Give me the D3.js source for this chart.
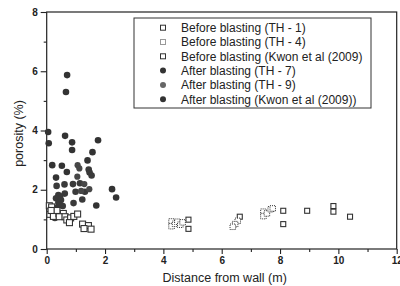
<!DOCTYPE html>
<html><head><meta charset="utf-8">
<script src="https://cdn.jsdelivr.net/npm/d3@7"></script>
<style>body{margin:0;background:#fff}svg{display:block}text{font-family:"Liberation Sans",Arial,sans-serif;fill:#222}</style>
</head><body><svg id="c" width="400" height="286"></svg>
<script>
const seriesNames = ["Before blasting (TH - 1)","Before blasting (TH - 4)","Before blasting (Kwon et al (2009)","After blasting (TH - 7)","After blasting (TH - 9)","After blasting (Kwon et al (2009))"];
const xTicks = [0,2,4,6,8,10,12];
const yTicks = [0,2,4,6,8];
const beforeTH1 = [[4.86,0.99],[4.86,0.68],[6.62,1.09],[8.11,1.29],[8.11,0.84],[8.93,1.29],[9.83,1.45],[9.83,1.26],[10.40,1.09]];
const beforeTH4 = [[4.28,0.93],[4.28,0.77],[4.40,0.85],[4.48,0.92],[4.58,0.82],[4.66,0.90],[6.55,0.95],[6.46,0.84],[6.38,0.75],[7.43,1.26],[7.43,1.11],[7.55,1.20],[7.68,1.34],[7.75,1.37]];
const beforeKwon = [[0.09,1.46],[0.17,1.42],[0.11,1.17],[0.28,1.26],[0.23,1.10],[0.42,1.19],[0.57,1.20],[0.43,1.09],[0.63,1.09],[0.69,0.98],[0.82,1.05],[0.78,0.89],[0.93,1.10],[1.06,1.18],[1.23,0.84],[1.43,0.79],[1.52,0.67],[1.28,0.69],[0.35,1.30],[0.15,1.30]];
const afterTH7 = [[0.70,5.87],[0.66,5.30],[0.05,3.95],[0.63,3.82],[0.07,3.57],[0.87,3.60],[1.76,3.67],[0.87,3.34],[1.57,3.27],[1.40,2.99],[0.19,2.83],[0.52,2.81],[0.69,2.60],[0.32,2.41],[2.24,2.02],[2.38,1.74],[1.70,1.47]];
const afterTH9 = [[1.06,2.83],[1.12,2.72],[1.29,2.19],[1.46,2.02],[1.05,2.44],[1.18,1.96]];
const afterKwon = [[1.44,2.68],[1.47,2.58],[1.54,2.48],[0.34,2.13],[0.61,2.18],[0.90,2.19],[1.14,2.22],[0.99,1.93],[1.31,1.93],[0.62,1.87],[0.40,1.82],[0.46,1.78],[0.32,1.71],[0.49,1.65],[1.22,1.67],[0.92,1.55],[0.40,1.56],[0.43,1.49],[0.28,1.38],[0.55,1.45],[0.28,1.05],[0.45,1.12]];

const svg = d3.select("#c");
const L=46.7,R=396.7,T=12,B=249;
const x = d3.scaleLinear().domain([0,12]).range([L,R]);
const y = d3.scaleLinear().domain([0,8]).range([B,T]);
const ax="#222";

svg.append("rect").attr("x",L).attr("y",T).attr("width",R-L).attr("height",B-T).attr("fill","none").attr("stroke",ax).attr("stroke-width",1.2);

const gx = svg.append("g").attr("transform",`translate(0,${B})`)
  .call(d3.axisBottom(x).tickValues(xTicks).tickSize(5).tickPadding(3).tickFormat(d3.format("d")));
const gxm = svg.append("g").attr("transform",`translate(0,${B})`)
  .call(d3.axisBottom(x).tickValues(d3.range(1,12,2)).tickSize(3).tickFormat(""));
const gy = svg.append("g").attr("transform",`translate(${L},0)`)
  .call(d3.axisLeft(y).tickValues(yTicks).tickSize(6).tickPadding(3).tickFormat(d3.format("d")));
const gym = svg.append("g").attr("transform",`translate(${L},0)`)
  .call(d3.axisLeft(y).tickValues(d3.range(1,8,2)).tickSize(3).tickFormat(""));
[gx,gxm,gy,gym].forEach(g=>{g.select(".domain").remove();g.selectAll("line").attr("stroke",ax).attr("stroke-width",1.1);g.selectAll("text").attr("fill","#222").style("font-size","10px").style("font-weight","bold");});

svg.append("text").attr("x",(L+R)/2+3).attr("y",282).attr("text-anchor","middle").style("font-size","12.5px").text("Distance from wall (m)");
svg.append("text").attr("transform",`translate(23,${(T+B)/2+3}) rotate(-90)`).attr("text-anchor","middle").style("font-size","12.5px").text("porosity (%)");

function sq(g,data,dash,s){
  g.selectAll(null).data(data).enter().append("rect")
   .attr("x",d=>x(d[0])-s/2).attr("y",d=>y(d[1])-s/2).attr("width",s).attr("height",s)
   .attr("fill","#fff").attr("stroke","#333").attr("stroke-width",dash?1:1.1).attr("stroke-dasharray",dash?"1,1":null);
}
function ci(g,data,col,r){
  g.selectAll(null).data(data).enter().append("circle")
   .attr("cx",d=>x(d[0])).attr("cy",d=>y(d[1])).attr("r",r).attr("fill",col);
}
const pts = svg.append("g");
sq(pts,beforeTH1,false,5);
sq(pts,beforeTH4,true,5.5);
ci(pts,afterTH7,"#333",3.3);
ci(pts,afterKwon,"#3a3a3a",3.3);
ci(pts,afterTH9,"#474747",3.1);
sq(pts,beforeKwon,false,6);

const lg = svg.append("g");
lg.append("rect").attr("x",134).attr("y",18).attr("width",237).attr("height",90).attr("fill","#fff").attr("stroke","#333").attr("stroke-width",1);
const types=[["sq",false,5],["sq",true,5],["sq",false,5],["ci","#333",3],["ci","#666",3],["ci","#333",3]];
seriesNames.forEach((n,i)=>{
  const yy=27.7+i*14.3;
  const t=types[i];
  if(t[0]==="sq") lg.append("rect").attr("x",163-t[2]/2).attr("y",yy-t[2]/2).attr("width",t[2]).attr("height",t[2]).attr("fill","#fff").attr("stroke","#333").attr("stroke-dasharray",t[1]?"1,1":null);
  else lg.append("circle").attr("cx",163).attr("cy",yy).attr("r",t[2]).attr("fill",t[1]);
  lg.append("text").attr("x",181).attr("y",yy+4.3).style("font-size","12px").text(n);
});
</script></body></html>
